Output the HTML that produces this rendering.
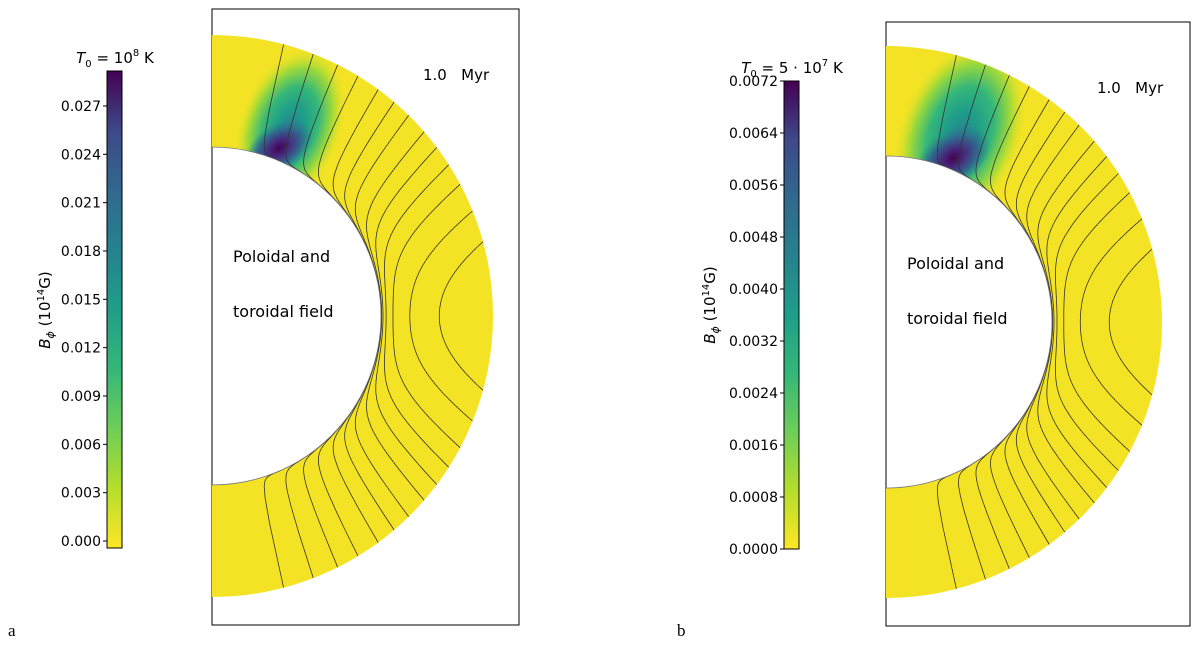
<!DOCTYPE html>
<html><head><meta charset="utf-8">
<style>
html,body{margin:0;padding:0;background:#fff;}
svg{display:block;font-family:"DejaVu Sans","Liberation Sans",sans-serif;}
</style></head>
<body>
<svg id="fig" width="1200" height="646" viewBox="0 0 1200 646">
<defs>
<linearGradient id="viridis" x1="0" y1="1" x2="0" y2="0">
<stop offset="0" stop-color="#fde725"/><stop offset="0.125" stop-color="#b5de2b"/>
<stop offset="0.25" stop-color="#6ece58"/><stop offset="0.375" stop-color="#35b779"/>
<stop offset="0.5" stop-color="#1f9e89"/><stop offset="0.625" stop-color="#26828e"/>
<stop offset="0.75" stop-color="#31688e"/><stop offset="0.875" stop-color="#3e4989"/>
<stop offset="1" stop-color="#440154"/>
</linearGradient>
<radialGradient id="blobWide">
<stop offset="0" stop-color="#26828e"/><stop offset="0.25" stop-color="#1f9e89"/>
<stop offset="0.5" stop-color="#35b779"/><stop offset="0.75" stop-color="#a0da39"/>
<stop offset="1" stop-color="#f4e324" stop-opacity="0"/>
</radialGradient>
<radialGradient id="blobCore">
<stop offset="0" stop-color="#440154"/><stop offset="0.3" stop-color="#462a7b"/>
<stop offset="0.65" stop-color="#31688e"/><stop offset="1" stop-color="#26828e" stop-opacity="0"/>
</radialGradient>
</defs>
<g id="root"></g>
</svg>
<script>
// panel a data
const ticksA = [0.000,0.003,0.006,0.009,0.012,0.015,0.018,0.021,0.024,0.027];
const tickLabelsA = ["0.000","0.003","0.006","0.009","0.012","0.015","0.018","0.021","0.024","0.027"];
const cbMaxA = 0.02917;
// panel b data
const ticksB = [0.0000,0.0008,0.0016,0.0024,0.0032,0.0040,0.0048,0.0056,0.0064,0.0072];
const tickLabelsB = ["0.0000","0.0008","0.0016","0.0024","0.0032","0.0040","0.0048","0.0056","0.0064","0.0072"];
const cbMaxB = 0.0072;
// field-line flux levels (sin^2 of footpoint colatitude)
const fluxLevels = [0.065,0.13,0.2,0.27,0.35,0.42,0.49,0.57,0.64,0.71,0.78,0.86,0.93];

const NS="http://www.w3.org/2000/svg";
const root=document.getElementById('root');
function el(tag,attrs,parent){const e=document.createElementNS(NS,tag);for(const k in attrs)e.setAttribute(k,attrs[k]);(parent||root).appendChild(e);return e;}

function panel(P){
  const g=el('g',{});
  
  
  const cb=el('rect',{x:P.cbx,y:P.cbTop,width:15,height:P.cbBot-P.cbTop,fill:'url(#viridis)',stroke:'#000','stroke-width':1},g);
  
  
  const yv=v=>P.zeroY-(v/P.cbMax)*(P.zeroY-P.cbTop);
  P.ticks.forEach((t,i)=>{
    const y=yv(t);
    el('line',{x1:P.cbx-4,x2:P.cbx,y1:y,y2:y,stroke:'#000','stroke-width':1},g);
    const tx=el('text',{x:P.cbx-6,y:y+5,'text-anchor':'end','font-size':14},g);
    tx.textContent=P.labels[i];
    
    
  });
  const tt=el('text',{x:P.cbx+8,y:P.cbTop-8,'text-anchor':'middle','font-size':15},g);
  tt.innerHTML=P.title;
  
  
  const yl=el('text',{transform:`translate(${P.ylx},${P.yly}) rotate(-90)`,'text-anchor':'middle','font-size':15},g);
  yl.innerHTML='<tspan font-style="italic">B</tspan><tspan font-style="italic" font-size="11" dy="4">ϕ</tspan><tspan dy="-4"> (10</tspan><tspan font-size="10" dy="-6">14</tspan><tspan dy="6">G)</tspan>';
  
  
  const fr=el('rect',{x:P.fx,y:P.fy,width:P.fw,height:P.fh,fill:'none',stroke:'#000','stroke-width':1},g);
  
  
  const cx=P.fx,cy=P.cy,ri=P.ri,ro=P.ro;
  const d=`M${cx},${cy-ro} A${ro},${ro} 0 0 1 ${cx},${cy+ro} L${cx},${cy+ri} A${ri},${ri} 0 0 0 ${cx},${cy-ri} Z`;
  const cid='clip'+P.name;
  const cp=el('clipPath',{id:cid},g); el('path',{d},cp);
  const an=el('path',{d,fill:'#f4e324'},g);
  
  
  const bl=el('g',{'clip-path':`url(#${cid})`},g);
  el('ellipse',{cx:P.wx,cy:P.wy,rx:P.wrx,ry:P.wry,fill:'url(#blobWide)',transform:`rotate(${P.wrot} ${P.wx} ${P.wy})`},bl);
  el('ellipse',{cx:P.bx,cy:P.by,rx:P.brx,ry:P.bry,fill:'url(#blobCore)',transform:`rotate(${P.brot} ${P.bx} ${P.by})`},bl);
  const fl=el('g',{fill:'none',stroke:'#333','stroke-width':0.8,'clip-path':`url(#${cid})`},g);
  
  
  fluxLevels.forEach(c=>{
    const th0=Math.asin(Math.sqrt(c));
    let pts=[];
    const N=100;
    for(let k=0;k<=2*N;k++){
      const th=th0+(Math.PI-2*th0)*k/(2*N);
      const s2=Math.sin(th)**2;
      const fr2=Math.pow(Math.min(1,c/s2),9);
      const r=ri+(ro-ri)*fr2;
      pts.push((cx+r*Math.sin(th)).toFixed(1)+','+(cy-r*Math.cos(th)).toFixed(1));
    }
    const pl=el('polyline',{points:pts.join(' ')},fl);
    
    
  });
  el('path',{d:`M${cx},${cy-ri} A${ri},${ri} 0 0 1 ${cx},${cy+ri}`,fill:'none',stroke:'#777','stroke-width':0.8},g);
  const t1=el('text',{x:P.px,y:P.py,'font-size':16},g); t1.textContent='Poloidal and';
  
  
  const t2=el('text',{x:P.px,y:P.py+55,'font-size':16},g); t2.textContent='toroidal field';
  
  
  const t3=el('text',{x:P.mx,y:P.my,'font-size':15,style:'white-space:pre'},g); t3.textContent='1.0   Myr';
  
  
  const pl=el('text',{x:P.lx,y:636,'font-size':17,'font-family':'"Liberation Serif",serif'},g); pl.textContent=P.letter;
  
  
}
panel({name:'panel-a',cbx:107,cbTop:71,cbBot:548,zeroY:541,cbMax:cbMaxA,ticks:ticksA,labels:tickLabelsA,
  title:'<tspan font-style="italic">T</tspan><tspan font-size="10" dy="4">0</tspan><tspan dy="-4"> = 10</tspan><tspan font-size="10" dy="-7">8</tspan><tspan dy="7"> K</tspan>',
  ylx:50,yly:310,fx:212,fy:9,fw:307,fh:616,cy:316,ri:169,ro:281,
  wx:290,wy:128,wrx:85,wry:52,wrot:-70,bx:279,by:148,brx:38,bry:24,brot:-35,
  px:233,py:262,mx:423,my:80,lx:8,letter:'a'});
panel({name:'panel-b',cbx:784,cbTop:81,cbBot:549,zeroY:549,cbMax:cbMaxB,ticks:ticksB,labels:tickLabelsB,
  title:'<tspan font-style="italic">T</tspan><tspan font-size="10" dy="4">0</tspan><tspan dy="-4"> = 5 · 10</tspan><tspan font-size="10" dy="-7">7</tspan><tspan dy="7"> K</tspan>',
  ylx:715,yly:305,fx:886,fy:22,fw:304,fh:604,cy:322,ri:166,ro:276,
  wx:960,wy:135,wrx:100,wry:62,wrot:-70,bx:953,by:158,brx:42,bry:27,brot:-35,
  px:907,py:269,mx:1097,my:93,lx:677,letter:'b'});
</script>
</body></html>
